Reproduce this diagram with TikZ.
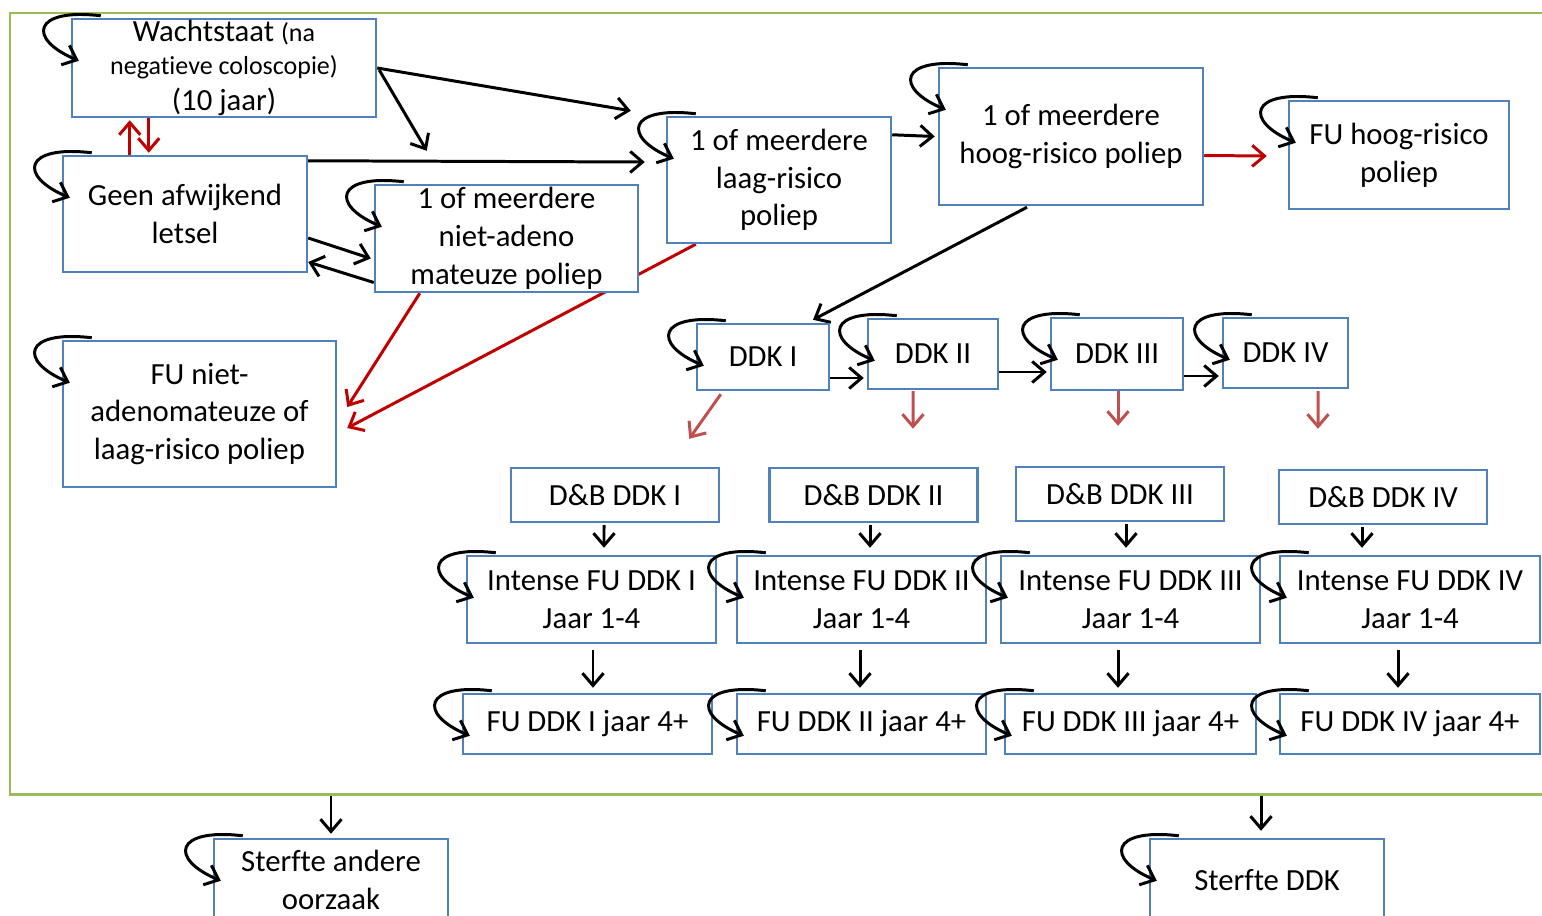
\documentclass[tikz,border=0pt]{standalone}
\usepackage{fontspec}
\setmainfont{Carlito}[Ligatures={NoCommon}]
\usetikzlibrary{arrows.meta, positioning, calc, backgrounds}
\usepackage{xcolor}
\definecolor{boxblue}{HTML}{4F81BD}
\definecolor{framegreen}{HTML}{9BBB59}
\definecolor{darkred}{HTML}{C00000}
\definecolor{softred}{HTML}{C0504D}
\def\pxu{0.02cm}
\newcommand\selfloop[1]{\draw[arr] ($(#1.north west)+(30,-2)$) .. controls +(-68,-8) and +(-52,-22) .. ($(#1.north west)+(8,43)$);}

\begin{document}
\begin{tikzpicture}[x=\pxu, y=-\pxu, >={Straight Barb[length=7pt,width=12pt]}, font=\fontsize{17.5}{21.5}\selectfont]
    \tikzstyle{state}=[draw=boxblue, line width=1.4pt, fill=white, align=center, inner sep=1pt]
    \tikzstyle{arr}=[->, black, line width=1.7pt]
    \tikzstyle{redarr}=[->, darkred, line width=1.7pt]
    \tikzstyle{softarr}=[->, softred, line width=1.7pt]
    \tikzstyle{frame}=[draw=framegreen, line width=1.7pt]
    \tikzset{wh/.style 2 args={minimum width=#1*\pxu, minimum height=#2*\pxu}}
    \useasboundingbox (0,0) rectangle (1542,916);

    % Draw the model frame
    \node[frame, wh={1560}{781}] (model) at (790,403.5) {};

    % Draw the screening states
    \node[state, wh={304}{98}, inner sep=0pt] (wacht) at (224,68) {Wachtstaat {\fontsize{14.8}{17}\selectfont(na}\\[-2.5pt]{\fontsize{14.8}{17}\selectfont negatieve coloscopie)}\\[-0.8pt](10 jaar)};
    \node[state, wh={244}{116}] (geen) at (185,214) {Geen afwijkend\\letsel};
    \node[state, wh={263}{107}] (nietad) at (506.5,238.5) {1 of meerdere\\niet-adeno\\mateuze poliep};
    \node[state, wh={273}{146}] (funiet) at (199.5,414) {FU niet-\\adenomateuze of\\laag-risico poliep};
    \node[state, wh={224}{126}] (laag) at (779,180) {1 of meerdere\\laag-risico\\poliep};
    \node[state, wh={264}{137}] (hoog) at (1071,136.5) {1 of meerdere\\hoog-risico poliep};
    \node[state, wh={220}{108}] (fuhoog) at (1399,155) {FU hoog-risico\\poliep};

    % Draw the cancer stages
    \foreach \n/\r/\x/\y/\w/\h in {1/I/763/357/132/66, 2/II/933/354/130/70, 3/III/1117/354/132/72, 4/IV/1285.5/353/125/70}
        \node[state, wh={\w}{\h}] (ddk\n) at (\x,\y) {DDK \r};

    \foreach \n/\r/\x/\y in {1/I/615/495, 2/II/873.5/495, 3/III/1120/494, 4/IV/1383/497}
        \node[state, wh={208}{54}] (db\n) at (\x,\y) {D\&B DDK \r};

    \foreach \n/\r/\x/\w in {1/I/591.5/249, 2/II/861.5/249, 3/III/1130.5/259, 4/IV/1410/260}
        \node[state, wh={\w}{87}] (int\n) at (\x,599.5) {Intense FU DDK \r\\Jaar 1-4};

    \foreach \n/\r/\x/\w in {1/I/587.5/249, 2/II/861.5/249, 3/III/1130.5/251, 4/IV/1410/260}
        \node[state, wh={\w}{60}] (fu\n) at (\x,724) {FU DDK \r{} jaar 4+};

    % Draw the absorbing states
    \node[state, wh={234}{82}] (sterfa) at (331,880) {Sterfte andere\\oorzaak};
    \node[state, wh={234}{82}] (sterfd) at (1267,880) {Sterfte DDK};

    % staying in the same state
    \foreach \s in {wacht,geen,nietad,funiet,laag,hoog,fuhoog,ddk1,ddk2,ddk3,ddk4,int1,int2,int3,int4,fu1,fu2,fu3,fu4,sterfa,sterfd}
        {\selfloop{\s}}

    \begin{pgfonlayer}{background}
    \coordinate (toLaag) at ($(laag.north west)+(-35,-5)$);
    \coordinate (toNiet) at ($(nietad.north west)+(53,-33)$);
    \draw[arr] (wacht.east) -- (toLaag);
    \draw[arr] ($(wacht.east)+(2,2)$) -- (toNiet);
    \draw[arr] ($(geen.north east)+(0,6)$) -- ($(laag.west)+(-21,-18)$);
    \draw[arr] ($(geen.east)+(0,24)$) -- ($(nietad.west)+(-3,20)$);
    \draw[arr] ($(nietad.west)+(0,44)$) -- ($(geen.east)+(0,48)$);
    \draw[redarr] ($(geen.north west)+(68,0)$) -- ($(wacht.south west)+(59,2)$);
    \draw[redarr] ($(wacht.south west)+(78,0)$) -- ($(geen.north west)+(87,-2)$);
    \draw[redarr] ($(nietad.south west)+(46,0)$) -- ($(funiet.east)+(10,-7)$);
    \draw[redarr] ($(laag.south west)+(30,0)$) -- ($(funiet.east)+(10,14)$);
    \draw[arr] ($(laag.north east)+(0,19)$) -- ($(hoog.west)+(-3,0)$);
    \draw[redarr] ($(hoog.east)+(0,19)$) -- ($(fuhoog.west)+(-21,1)$);
    \draw[arr] ($(hoog.south)+(-44,1)$) -- ($(ddk1.north)+(50,-3)$);

    % progression of the cancer
    \foreach \a/\b/\da/\db in {1/2/21/24, 2/3/18/18, 3/4/22/23}
        \draw[arr] ($(ddk\a.east)+(0,\da)$) -- ($(ddk\b.west)+(-3,\db)$);
    \draw[softarr] ($(ddk1.south west)+(25,3)$) -- ($(db1.north east)+(-31,-28)$);
    \draw[softarr] ($(ddk2.south)+(-20,1)$) -- ($(db2.north)+(39.5,-38)$);
    \draw[softarr] ($(ddk3.south)+(1,0)$) -- ($(db3.north)+(-2,-40)$);
    \draw[softarr] ($(ddk4.south)+(32.5,2)$) -- ($(db4.north)+(-65,-40)$);
    \foreach \n/\a/\b in {1/-11/12.5, 2/-3.5/8.5, 3/6/-4.5, 4/-21/-48}
        \draw[arr] ($(db\n.south)+(\a,2)$) -- ($(int\n.north)+(\b,-7)$);
    \foreach \n/\a/\b in {1/1.5/5.5, 2/-1.5/-1.5, 3/-12.5/-12.5, 4/-12/-12}
        \draw[arr] ($(int\n.south)+(\a,6)$) -- ($(fu\n.north)+(\b,-5)$);

    % death
    \draw[arr] (model.south -| sterfa.north) -- ($(sterfa.north)+(0,-4)$);
    \draw[arr] ($(model.south -| sterfd.north)+(-6,-2)$) -- ($(sterfd.north)+(-6,-7)$);
    \end{pgfonlayer}
\end{tikzpicture}
\end{document}
